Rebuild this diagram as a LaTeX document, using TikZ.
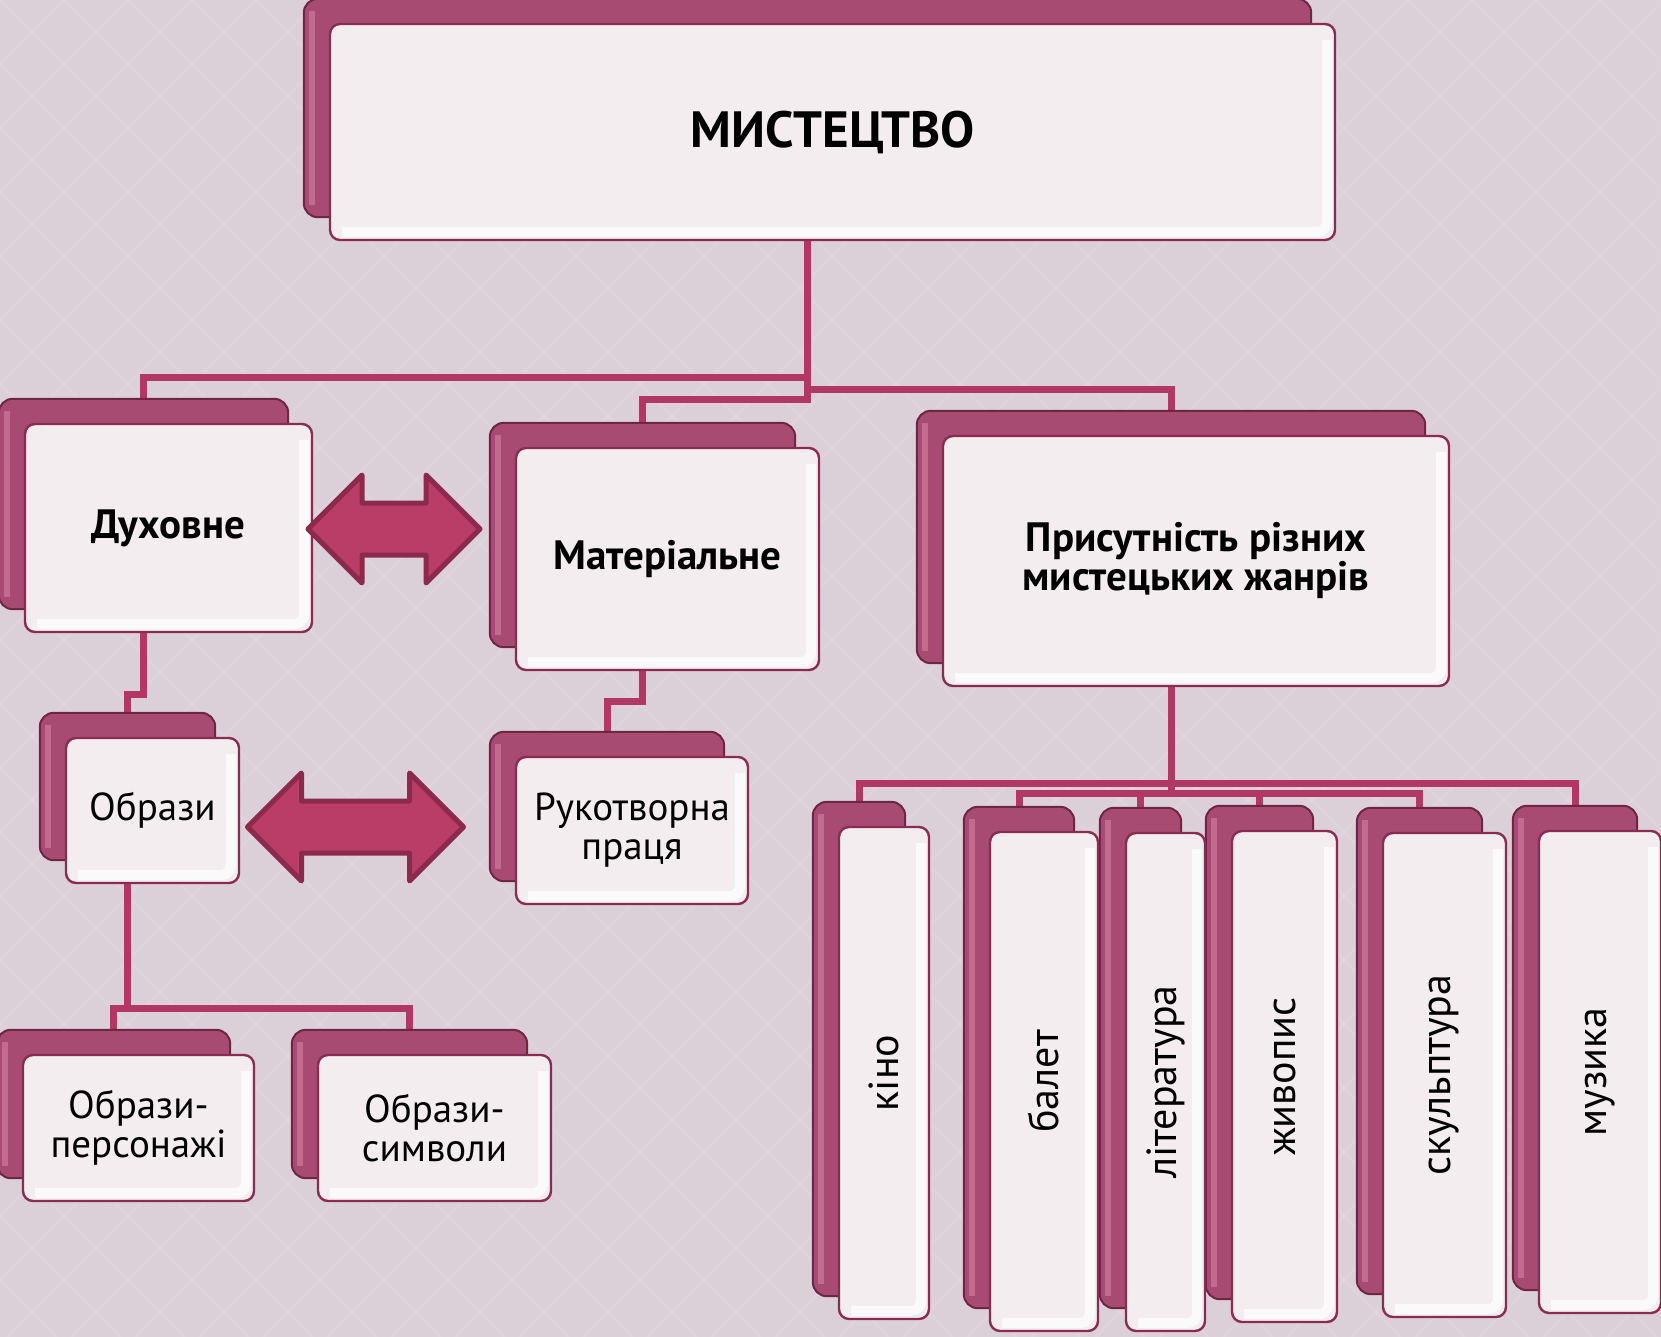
\documentclass[tikz,border=0pt]{standalone}
\usepackage{fontspec}
\setmainfont{PT Sans}
\usetikzlibrary{backgrounds}
\definecolor{bgmauve}{HTML}{DCD0D8}
\definecolor{cardface}{HTML}{F3EDF0}
\definecolor{cardedge}{HTML}{8A2C50}
\definecolor{backfill}{HTML}{A84B73}
\definecolor{backedge}{HTML}{6E2743}
\definecolor{backlight}{HTML}{C26A90}
\definecolor{linkred}{HTML}{B03862}
\definecolor{twinfill}{HTML}{BA3D67}
\definecolor{twinedge}{HTML}{8B2A4B}
\begin{document}
\begin{tikzpicture}
  [x=0.5pt,y=-0.5pt,
  card/.style={draw=cardedge,line width=1.2pt,fill=cardface,rounded corners=5pt,
    align=center,inner sep=0pt,font=\fontsize{19.5pt}{19.5pt}\selectfont,
    path picture={\draw[white,line width=5pt,opacity=.75]
      ([shift={(6pt,4pt)}]path picture bounding box.south west)
      -- ([shift={(-4pt,4pt)}]path picture bounding box.south east)
      -- ([shift={(-4pt,-8pt)}]path picture bounding box.north east);}},
  head/.style={card,font=\bfseries\fontsize{20.5pt}{19.5pt}\selectfont},
  genre/.style={card,font=\fontsize{21pt}{21pt}\selectfont},
  backcard/.style={draw=backedge,line width=1pt,fill=backfill,rounded corners=7pt,
    path picture={\draw[backlight,line width=3pt]
      ([shift={(4pt,6pt)}]path picture bounding box.south west)
      -- ([shift={(4pt,-6pt)}]path picture bounding box.north west);}},
  link/.style={draw=linkred,line width=3.5pt},
  twin/.style={draw=twinedge,fill=twinfill,line width=2.5pt,line join=round}]
  \useasboundingbox (0,0) rectangle (1661,1337);

  % top level
  \node[head,font=\bfseries\fontsize{25.5pt}{25.5pt}\selectfont,
    minimum width=502.5pt,minimum height=108pt] (art) at (832.5,132) {МИСТЕЦТВО};
  \node[head,minimum width=143.5pt,minimum height=104pt] (duh) at (168.5,528) {Духовне};
  \node[head,minimum width=151.5pt,minimum height=111pt] (mat) at (667.5,559) {Матеріальне};
  \node[head,minimum width=253pt,minimum height=125pt] (prs) at (1196,561)
    {Присутність різних\\мистецьких жанрів};

  % second level
  \node[card,minimum width=86.5pt,minimum height=72.5pt] (obr) at (152.5,810.5) {Образи};
  \node[card,minimum width=116pt,minimum height=73.5pt] (ruk) at (632,830.5) {Рукотворна\\праця};
  \node[card,minimum width=115.5pt,minimum height=73pt] (per) at (138.5,1128) {Образи-\\персонажі};
  \node[card,minimum width=116.5pt,minimum height=73pt] (sym) at (434.5,1128) {Образи-\\символи};

  % genres
  \foreach \n/\x/\y/\w/\h/\t in {kino/884/1073/45pt/246pt/кіно,
      balet/1044/1081.5/54pt/249.5pt/балет,
      lit/1165.5/1082/39.5pt/249pt/література,
      zhyv/1284.5/1076.5/52.5pt/245.5pt/живопис,
      skul/1444.5/1075/61.5pt/242pt/скульптура,
      muz/1600/1072/61pt/241pt/музика}
    \node[genre,minimum width=\w,minimum height=\h] (\n) at (\x,\y) {\rotatebox{90}{\t}};

  % two-way arrows
  \foreach \cx/\cy/\len in {394/529/86, 355.5/827/108}
    \draw[twin] (\cx-\len,\cy) -- ++(54,-54) -- ++(0,28) -- (\cx+\len-54,\cy-26)
      -- ++(0,-28) -- (\cx+\len,\cy) -- ++(-54,54) -- ++(0,-28)
      -- (\cx-\len+54,\cy+26) -- ++(0,28) -- cycle;

  \begin{scope}[on background layer]
    \fill[bgmauve] (0,0) rectangle (1661,1337);
    \begin{scope}
      \clip (0,0) rectangle (1661,1337);
      \foreach \k in {-22,...,48} {
        \draw[white,opacity=.07,line width=2pt] (\k*64,0) -- ++(1337,1337);
        \draw[white,opacity=.07,line width=2pt] (\k*64,0) -- ++(-1337,1337);
      }
    \end{scope}
    \foreach \n in {art,duh,mat,prs,obr,ruk,per,sym,kino,balet,lit,zhyv,skul,muz}
      \coordinate (\n-b) at ([shift={(-25,-24)}]\n.center);
    % connectors
    \draw[link] (art-b) -- (art-b |- 0,378) -| (duh-b);
    \draw[link] (art-b) -- (art-b |- 0,400) -| (mat-b);
    \draw[link] (art-b) -- (art-b |- 0,390) -| (prs-b);
    \draw[link] (duh-b) -- (duh-b |- 0,694) -| (obr-b);
    \draw[link] (mat-b) -- (mat-b |- 0,701) -| (ruk-b);
    \draw[link] (obr-b) -- (obr-b |- 0,1008) -| (per-b);
    \draw[link] (obr-b) -- (obr-b |- 0,1008) -| (sym-b);
    \foreach \n/\y in {kino/783,balet/793,lit/793,zhyv/793,skul/793,muz/783}
      \draw[link] (prs-b) -- (prs-b |- 0,\y) -| (\n-b);
    % back plates
    \foreach \n in {art,duh,mat,prs,obr,ruk,per,sym,kino,balet,lit,zhyv,skul,muz}
      \draw[backcard] ([shift={(-25,-24)}]\n.north west) rectangle ([shift={(-25,-24)}]\n.south east);
  \end{scope}
\end{tikzpicture}
\end{document}
